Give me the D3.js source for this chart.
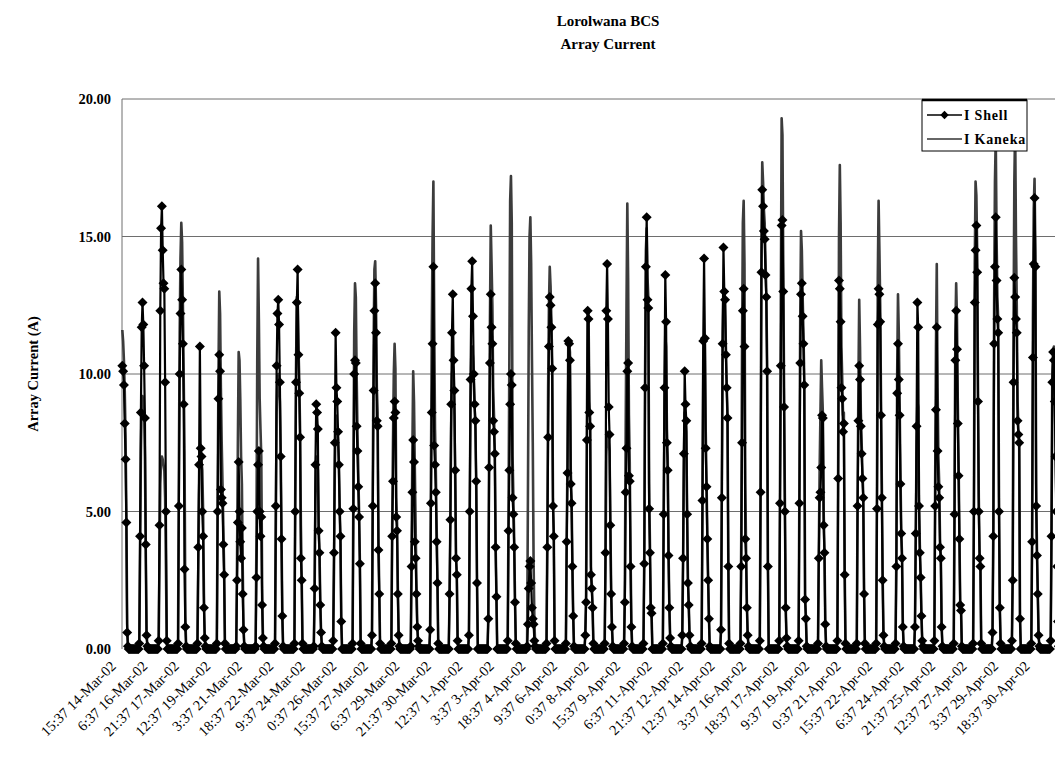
<!DOCTYPE html>
<html>
<head>
<meta charset="utf-8">
<script src="https://cdn.jsdelivr.net/npm/d3@7"></script>
<style>
  html, body { margin: 0; padding: 0; background: #ffffff; }
  svg { display: block; }
</style>
</head>
<body>
<div id="chart"></div>
<script>
// Hourly logger readings, one row per day from 14-Mar-02, hours 07:37 .. 17:37.
// All other (night) hours read 0.
const seriesStart = "09:37 14-Mar-02";
const seriesEnd = "17:37 01-May-02";
const daylightHours = [7, 8, 9, 10, 11, 12, 13, 14, 15, 16, 17];

const shellDaylight = [
  [0, 0, 5.0, 10.3, 10.1, 9.6, 8.2, 6.9, 4.6, 0.6, 0.1],
  [0.2, 4.1, 8.6, 11.7, 12.6, 11.8, 10.3, 8.4, 3.8, 0.5, 0.1],
  [0.3, 4.5, 12.3, 15.3, 16.1, 14.5, 13.3, 13.1, 9.7, 5.0, 0.3],
  [0.2, 5.2, 10.0, 12.2, 13.8, 12.7, 11.1, 8.9, 2.9, 0.8, 0.1],
  [0.2, 3.7, 6.7, 11.0, 7.3, 7.0, 5.0, 4.1, 1.5, 0.4, 0.1],
  [0.2, 5.0, 9.1, 10.7, 10.1, 5.8, 5.5, 5.3, 3.8, 2.7, 0.2],
  [0.1, 2.5, 4.6, 6.8, 5.0, 3.9, 3.3, 4.4, 2.0, 0.7, 0.1],
  [0.1, 2.6, 5.0, 6.7, 7.2, 5.0, 4.1, 4.8, 1.6, 0.4, 0.1],
  [0.2, 5.2, 10.3, 12.2, 12.7, 11.8, 9.7, 7.0, 4.0, 1.2, 0.1],
  [0.2, 5.0, 9.7, 12.6, 13.8, 10.7, 9.3, 7.7, 3.3, 2.5, 0.2],
  [0.1, 2.2, 6.7, 8.9, 8.6, 8.0, 4.3, 3.5, 1.6, 0.6, 0.1],
  [0.3, 3.5, 7.5, 11.5, 9.5, 9.0, 7.9, 6.7, 5.0, 4.1, 1.0],
  [0.2, 5.1, 10.0, 10.5, 10.4, 8.1, 7.2, 5.9, 4.8, 3.1, 0.2],
  [0.5, 5.2, 9.4, 12.3, 13.3, 11.5, 8.3, 8.1, 3.6, 2.0, 0.2],
  [0.2, 4.1, 6.1, 8.4, 9.0, 8.6, 4.8, 4.3, 2.0, 0.5, 0.1],
  [0.1, 3.0, 5.7, 7.6, 6.8, 3.9, 3.3, 2.0, 0.8, 0.3, 0.1],
  [0.7, 5.3, 8.6, 11.1, 13.9, 7.4, 6.7, 5.7, 3.9, 2.4, 0.2],
  [2.0, 4.7, 8.9, 11.5, 12.9, 10.5, 9.4, 6.5, 3.3, 2.7, 0.3],
  [0.5, 5.0, 9.8, 13.1, 14.1, 12.1, 10.0, 8.9, 8.3, 6.1, 2.4],
  [1.1, 6.6, 10.4, 12.9, 11.7, 11.1, 8.3, 7.9, 7.1, 3.7, 1.9],
  [0.3, 4.3, 6.5, 8.9, 10.0, 9.6, 5.5, 4.9, 3.7, 1.7, 0.2],
  [0.1, 0.9, 2.2, 3.0, 3.2, 2.4, 1.5, 1.1, 0.9, 0.3, 0.1],
  [0.2, 3.7, 7.7, 11.0, 12.8, 12.5, 11.7, 10.2, 5.2, 4.1, 0.3],
  [0.2, 3.9, 6.4, 11.2, 11.1, 10.5, 6.0, 5.3, 3.0, 1.2, 0.1],
  [0.5, 1.7, 7.6, 12.3, 12.0, 8.6, 8.1, 2.7, 2.2, 1.5, 0.2],
  [0.2, 3.5, 12.3, 14.0, 12.0, 8.8, 7.8, 4.5, 2.0, 0.8, 0.1],
  [0.2, 1.7, 5.7, 7.3, 10.1, 10.4, 6.3, 6.1, 3.0, 0.8, 0.1],
  [0.2, 3.1, 9.5, 13.9, 15.7, 12.7, 12.4, 5.1, 3.5, 1.5, 1.3],
  [0.2, 4.9, 9.5, 13.6, 11.9, 7.5, 6.5, 3.4, 1.5, 0.4, 0.1],
  [0.5, 3.3, 7.1, 10.1, 8.9, 8.3, 4.9, 2.4, 1.6, 0.5, 0.1],
  [0.2, 5.4, 11.2, 14.2, 11.3, 7.3, 5.9, 4.0, 2.5, 1.1, 0.1],
  [0.7, 5.5, 11.1, 14.6, 13.0, 12.7, 10.7, 9.5, 8.4, 3.0, 0.2],
  [0.2, 3.0, 7.5, 12.3, 13.1, 11.0, 4.0, 3.3, 1.5, 0.5, 0.1],
  [0.3, 5.7, 13.7, 16.7, 16.1, 15.2, 14.9, 13.6, 12.8, 10.1, 3.0],
  [0.3, 5.3, 10.3, 15.4, 15.6, 13.0, 8.8, 5.0, 1.5, 0.4, 0.1],
  [0.3, 5.3, 10.4, 12.9, 13.3, 12.1, 11.1, 9.6, 1.8, 1.1, 0.1],
  [0.2, 3.3, 5.5, 5.7, 6.6, 8.5, 8.4, 4.5, 3.5, 0.9, 0.1],
  [0.3, 6.2, 13.4, 13.1, 11.9, 9.5, 9.1, 7.9, 8.2, 2.7, 0.2],
  [0.2, 5.2, 8.3, 10.3, 9.8, 8.1, 7.1, 6.2, 5.5, 2.0, 0.2],
  [0.2, 5.1, 11.8, 13.1, 12.9, 11.9, 8.5, 5.5, 2.5, 0.5, 0.1],
  [0.2, 3.0, 9.3, 11.1, 9.8, 8.5, 6.0, 4.2, 3.3, 0.8, 0.1],
  [0.8, 4.2, 8.1, 12.6, 11.7, 5.2, 3.5, 2.6, 1.2, 0.3, 0.1],
  [0.3, 5.2, 8.7, 11.7, 7.2, 5.9, 5.5, 3.7, 3.3, 0.8, 0.1],
  [0.2, 4.9, 10.5, 12.3, 10.9, 8.2, 6.3, 4.0, 1.6, 1.4, 0.1],
  [0.2, 5.0, 12.6, 14.5, 15.4, 13.7, 9.0, 5.0, 3.3, 3.0, 0.2],
  [0.6, 4.1, 11.1, 13.9, 15.7, 13.4, 12.0, 11.5, 5.0, 1.5, 0.2],
  [0.3, 2.5, 9.7, 13.5, 12.8, 12.0, 11.5, 8.3, 7.8, 7.5, 1.1],
  [0.2, 3.9, 10.6, 14.0, 16.4, 13.9, 5.2, 3.4, 2.0, 0.5, 0.1],
  [0.3, 4.1, 9.7, 10.8, 10.5, 9.0, 7.0, 5.0, 3.0, 1.0, 0.1]
];

const kanekaDaylight = [
  [0, 0, 6.2, 11.6, 11.2, 10.5, 9.4, 7.8, 5.0, 0.9, 0.1],
  [0.2, 3.5, 7.2, 8.9, 9.2, 9.0, 8.6, 7.0, 3.6, 0.6, 0.1],
  [0.2, 3.0, 6.0, 6.8, 7.0, 6.9, 6.7, 6.5, 5.5, 3.0, 0.2],
  [0.3, 6.5, 11.5, 14.2, 15.5, 14.8, 12.5, 9.8, 7.2, 1.2, 0.1],
  [0.2, 2.8, 5.6, 7.2, 7.0, 6.8, 6.5, 5.0, 2.0, 0.4, 0.1],
  [0.2, 5.5, 10.0, 13.0, 12.2, 9.5, 7.5, 6.0, 4.5, 2.9, 0.2],
  [0.1, 3.2, 7.4, 10.8, 10.5, 9.1, 7.0, 6.0, 3.0, 0.8, 0.1],
  [0.1, 4.0, 10.5, 14.2, 12.0, 9.1, 8.0, 7.0, 2.5, 0.5, 0.1],
  [0.2, 4.5, 8.6, 9.8, 10.0, 9.7, 9.0, 7.2, 4.2, 1.3, 0.1],
  [0.2, 5.5, 10.2, 12.8, 12.5, 11.0, 9.8, 8.0, 4.5, 2.6, 0.2],
  [0.1, 2.0, 5.5, 7.0, 6.8, 6.5, 4.5, 3.6, 1.8, 0.6, 0.1],
  [0.3, 3.0, 6.5, 8.5, 8.3, 8.0, 7.6, 6.8, 5.2, 3.8, 1.0],
  [0.2, 6.0, 11.5, 13.3, 12.8, 10.0, 8.0, 6.5, 5.0, 3.2, 0.2],
  [0.5, 6.0, 11.0, 13.8, 14.1, 12.5, 9.5, 8.6, 4.0, 2.2, 0.2],
  [0.2, 4.5, 7.5, 10.0, 11.1, 10.2, 5.5, 4.6, 2.2, 0.6, 0.1],
  [0.1, 3.5, 7.2, 10.1, 9.0, 6.6, 4.5, 2.5, 1.0, 0.3, 0.1],
  [0.8, 6.5, 11.5, 15.0, 17.0, 12.0, 8.0, 6.5, 4.5, 2.6, 0.2],
  [1.8, 4.5, 8.0, 10.0, 10.3, 9.7, 8.5, 6.2, 3.4, 2.6, 0.3],
  [0.5, 5.2, 9.0, 10.8, 11.0, 10.6, 9.8, 8.8, 8.0, 6.0, 2.4],
  [1.2, 7.5, 12.0, 15.4, 14.0, 12.5, 9.5, 8.5, 7.2, 3.8, 2.0],
  [0.3, 5.0, 10.5, 16.3, 17.2, 15.5, 7.0, 5.5, 4.0, 1.8, 0.2],
  [0.2, 5.5, 11.5, 15.0, 15.7, 14.0, 10.5, 7.5, 3.2, 1.0, 0.1],
  [0.2, 4.0, 9.5, 12.5, 13.9, 13.2, 12.0, 10.5, 5.5, 4.2, 0.3],
  [0.2, 4.0, 7.0, 11.3, 11.2, 10.8, 6.5, 5.5, 3.2, 1.3, 0.1],
  [0.5, 2.0, 8.0, 12.4, 12.2, 9.0, 8.4, 3.0, 2.4, 1.6, 0.2],
  [0.2, 3.0, 7.0, 7.9, 7.8, 7.5, 7.2, 4.6, 2.2, 0.8, 0.1],
  [0.2, 2.5, 8.0, 12.4, 16.2, 13.5, 8.5, 6.8, 3.5, 1.0, 0.1],
  [0.2, 3.4, 10.0, 14.5, 15.3, 13.5, 12.8, 6.0, 3.8, 1.6, 1.3],
  [0.2, 4.5, 9.0, 11.4, 11.0, 8.0, 7.0, 3.6, 1.6, 0.5, 0.1],
  [0.4, 3.0, 6.8, 8.6, 8.3, 7.9, 5.0, 2.6, 1.7, 0.5, 0.1],
  [0.2, 5.0, 10.5, 11.4, 11.3, 8.0, 6.2, 4.2, 2.6, 1.2, 0.1],
  [0.7, 6.0, 11.5, 13.0, 12.8, 12.5, 11.0, 9.6, 8.5, 3.2, 0.2],
  [0.2, 4.0, 11.0, 15.5, 16.3, 14.0, 6.0, 3.6, 1.6, 0.5, 0.1],
  [0.3, 6.5, 14.5, 17.7, 17.0, 16.0, 15.5, 14.2, 13.0, 10.5, 3.2],
  [0.3, 6.0, 12.5, 19.3, 18.7, 14.0, 9.5, 5.5, 1.6, 0.4, 0.1],
  [0.3, 6.0, 12.0, 15.2, 14.5, 12.8, 11.5, 9.8, 2.0, 1.2, 0.1],
  [0.2, 3.5, 6.5, 8.5, 10.5, 9.5, 8.6, 5.0, 3.6, 1.0, 0.1],
  [0.3, 7.0, 15.0, 17.6, 15.5, 11.0, 9.8, 8.5, 8.6, 3.0, 0.2],
  [0.2, 5.5, 9.5, 12.7, 11.0, 8.6, 7.5, 6.5, 5.6, 2.2, 0.2],
  [0.2, 5.8, 13.5, 16.3, 14.5, 12.5, 9.0, 6.0, 2.7, 0.6, 0.1],
  [0.2, 3.5, 10.0, 12.9, 11.5, 9.0, 6.5, 4.3, 3.4, 0.9, 0.1],
  [0.8, 4.0, 7.5, 9.0, 8.8, 5.5, 3.8, 2.8, 1.3, 0.3, 0.1],
  [0.3, 6.0, 11.0, 14.0, 9.5, 7.0, 6.0, 4.0, 3.4, 0.9, 0.1],
  [0.2, 5.5, 11.5, 13.3, 12.0, 9.0, 6.8, 4.2, 1.7, 1.5, 0.1],
  [0.2, 5.5, 14.0, 17.0, 16.5, 14.5, 9.5, 5.5, 3.5, 3.1, 0.2],
  [0.6, 4.5, 12.5, 17.0, 18.6, 15.0, 12.8, 12.0, 5.5, 1.6, 0.2],
  [0.3, 3.0, 11.5, 17.0, 19.0, 15.0, 12.5, 9.0, 8.0, 7.6, 1.2],
  [0.2, 4.2, 12.0, 16.0, 17.1, 14.5, 6.0, 3.6, 2.1, 0.5, 0.1],
  [0.3, 4.5, 10.0, 10.8, 11.0, 9.5, 7.5, 5.2, 3.1, 1.0, 0.1]
];

const xTickLabels = [
  "15:37 14-Mar-02", "6:37 16-Mar-02", "21:37 17-Mar-02", "12:37 19-Mar-02", "3:37 21-Mar-02",
  "18:37 22-Mar-02", "9:37 24-Mar-02", "0:37 26-Mar-02", "15:37 27-Mar-02", "6:37 29-Mar-02",
  "21:37 30-Mar-02", "12:37 1-Apr-02", "3:37 3-Apr-02", "18:37 4-Apr-02", "9:37 6-Apr-02",
  "0:37 8-Apr-02", "15:37 9-Apr-02", "6:37 11-Apr-02", "21:37 12-Apr-02", "12:37 14-Apr-02",
  "3:37 16-Apr-02", "18:37 17-Apr-02", "9:37 19-Apr-02", "0:37 21-Apr-02", "15:37 22-Apr-02",
  "6:37 24-Apr-02", "21:37 25-Apr-02", "12:37 27-Apr-02", "3:37 29-Apr-02", "18:37 30-Apr-02"
];

const yTickValues = [0, 5, 10, 15, 20];

const seriesNames = ["I Shell", "I Kaneka"];

// ---- layout ----
const width = 1055, height = 757;
const plotLeft = 122, plotTop = 99, plotBottom = 649;
const pxPerHour = 0.808;
const serif = "'Liberation Serif', 'Times New Roman', serif";
const shellColor = "#000000";
const kanekaColor = "#3c3c3c";

const parseTime = d3.utcParse("%H:%M %d-%b-%y");
const startDate = parseTime(seriesStart);
const endDate = parseTime(seriesEnd);
const dayZero = d3.utcDay.floor(startDate);

// build the hourly table from the daily rows (night hours = 0)
const hours = d3.utcHour.range(startDate, d3.utcHour.offset(endDate, 1));
const table = hours.map(h => {
  const dayIndex = d3.utcDay.count(dayZero, h);
  const k = daylightHours.indexOf(h.getUTCHours());
  return {
    date: h,
    shell: k < 0 ? 0 : shellDaylight[dayIndex][k],
    kaneka: k < 0 ? 0 : kanekaDaylight[dayIndex][k]
  };
});

const totalHours = (endDate - startDate) / 36e5;
const xScale = d3.scaleUtc()
  .domain([startDate, endDate])
  .range([plotLeft, plotLeft + totalHours * pxPerHour]);
const yScale = d3.scaleLinear().domain([0, 20]).range([plotBottom, plotTop]);

const svg = d3.select("#chart").append("svg")
  .attr("width", width).attr("height", height)
  .style("background", "#fff");

// titles
svg.append("text").attr("x", 608).attr("y", 26).attr("text-anchor", "middle")
  .style("font-family", serif).style("font-weight", "bold").style("font-size", "15px")
  .text("Lorolwana BCS");
svg.append("text").attr("x", 608).attr("y", 49).attr("text-anchor", "middle")
  .style("font-family", serif).style("font-weight", "bold").style("font-size", "15px")
  .text("Array Current");

// y axis title
svg.append("text")
  .attr("transform", `translate(38, ${(plotTop + plotBottom) / 2}) rotate(-90)`)
  .attr("text-anchor", "middle")
  .style("font-family", serif).style("font-weight", "bold").style("font-size", "14.5px")
  .text("Array Current (A)");

// gridlines
svg.append("g").selectAll("line")
  .data(yTickValues.filter(v => v > 0))
  .enter().append("line")
  .attr("x1", plotLeft).attr("x2", width)
  .attr("y1", d => yScale(d)).attr("y2", d => yScale(d))
  .attr("stroke", "#6e6e6e").attr("stroke-width", 1);

svg.append("line")
  .attr("x1", plotLeft).attr("x2", plotLeft)
  .attr("y1", plotTop).attr("y2", plotBottom)
  .attr("stroke", "#6e6e6e").attr("stroke-width", 1);

// y tick labels
svg.append("g").selectAll("text")
  .data(yTickValues)
  .enter().append("text")
  .attr("x", 111).attr("y", d => yScale(d) + 5)
  .attr("text-anchor", "end")
  .style("font-family", serif).style("font-weight", "bold").style("font-size", "14.5px")
  .text(d => d3.format(".2f")(d));

// x tick labels (rotated)
svg.append("g").selectAll("text")
  .data(xTickLabels)
  .enter().append("text")
  .attr("transform", d => `translate(${xScale(parseTime(d)) - 10}, 667) rotate(-45)`)
  .attr("text-anchor", "end")
  .style("font-family", serif).style("font-size", "14.5px")
  .text(d => d);

// series
const line = key => d3.line()
  .x(d => xScale(d.date))
  .y(d => yScale(d[key]));

svg.append("path")
  .datum(table)
  .attr("d", line("kaneka"))
  .attr("fill", "none").attr("stroke", kanekaColor).attr("stroke-width", 2.6)
  .attr("stroke-linejoin", "round");

svg.append("path")
  .datum(table)
  .attr("d", line("shell"))
  .attr("fill", "none").attr("stroke", shellColor).attr("stroke-width", 2.2)
  .attr("stroke-linejoin", "round");

const diamond = r => `M0,${-r}L${r},0L0,${r}L${-r},0Z`;

svg.append("g").selectAll("path")
  .data(table)
  .enter().append("path")
  .attr("transform", d => `translate(${xScale(d.date)},${yScale(d.shell)})`)
  .attr("d", diamond(5))
  .attr("fill", shellColor);

// legend
const legend = svg.append("g").attr("transform", "translate(922, 100)");
legend.append("rect").attr("width", 105).attr("height", 51)
  .attr("fill", "#fff").attr("stroke", "#000").attr("stroke-width", 1);
legend.append("line").attr("x1", 0).attr("x2", 105).attr("y1", 0).attr("y2", 0)
  .attr("stroke", "#000").attr("stroke-width", 2.5);
legend.append("line").attr("x1", 5).attr("x2", 40).attr("y1", 15).attr("y2", 15)
  .attr("stroke", shellColor).attr("stroke-width", 1.6);
legend.append("path").attr("transform", "translate(22.5,15)").attr("d", diamond(4.2)).attr("fill", shellColor);
legend.append("line").attr("x1", 5).attr("x2", 40).attr("y1", 39).attr("y2", 39)
  .attr("stroke", "#666").attr("stroke-width", 1.8);
legend.selectAll("text.entry")
  .data(seriesNames)
  .enter().append("text")
  .attr("class", "entry")
  .attr("x", 42).attr("y", (d, i) => 20 + i * 24)
  .style("font-family", serif).style("font-weight", "bold").style("font-size", "14px")
  .style("letter-spacing", "0.8px")
  .text(d => d);
</script>
</body>
</html>
